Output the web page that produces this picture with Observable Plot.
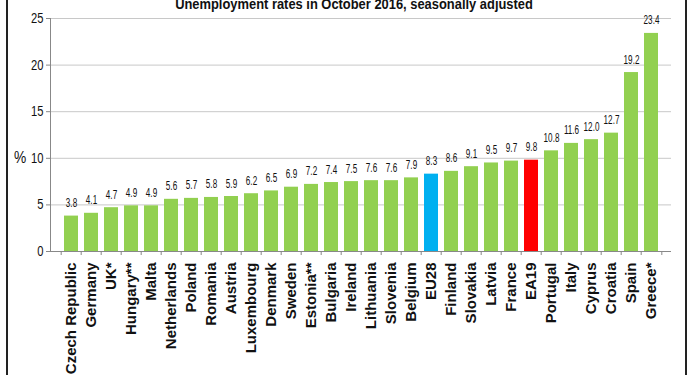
<!DOCTYPE html>
<html>
<head>
<meta charset="utf-8">
<script src="https://cdn.jsdelivr.net/npm/d3@7"></script>
<script src="https://cdn.jsdelivr.net/npm/@observablehq/plot@0.6"></script>
<style>
  html, body { margin: 0; padding: 0; background: #fff; overflow: hidden; }
  #wrap { position: relative; width: 700px; height: 375px; }
  #frame { position: absolute; left: 6px; top: -2px; width: 677px; height: 380px;
           border-left: 2px solid #222; border-right: 2px solid #222; pointer-events: none; }
  #chart { position: absolute; left: 0; top: 0; }
</style>
</head>
<body>
<div id="wrap"><div id="chart"></div><div id="frame"></div></div>
<script>
const title = "Unemployment rates in October 2016, seasonally adjusted";
const countries = ["Czech Republic","Germany","UK*","Hungary**","Malta","Netherlands","Poland","Romania","Austria","Luxembourg","Denmark","Sweden","Estonia**","Bulgaria","Ireland","Lithuania","Slovenia","Belgium","EU28","Finland","Slovakia","Latvia","France","EA19","Portugal","Italy","Cyprus","Croatia","Spain","Greece*"];
const rates = [3.8,4.1,4.7,4.9,4.9,5.6,5.7,5.8,5.9,6.2,6.5,6.9,7.2,7.4,7.5,7.6,7.6,7.9,8.3,8.6,9.1,9.5,9.7,9.8,10.8,11.6,12.0,12.7,19.2,23.4];
const yTicks = [0,5,10,15,20,25];
const highlight = {"EU28": "#00B0F0", "EA19": "#FF0000"};
const barColor = "#92D050";

const data = countries.map((c, i) => ({country: c, rate: rates[i], color: highlight[c] || barColor}));

const W = 700, H = 375, mL = 50, mR = 29, mT = 18, mB = 124;
const pIn = 0.32, pOut = 0.2;
const step = (W - mL - mR) / (countries.length - pIn + 2 * pOut);
const font = "Arial,'Liberation Sans',sans-serif";

const plot = Plot.plot({
  width: W, height: H,
  marginLeft: mL, marginRight: mR, marginTop: mT, marginBottom: mB,
  style: {background: "#fff", fontFamily: font, overflow: "visible"},
  x: {domain: countries, paddingInner: pIn, paddingOuter: pOut, label: null},
  y: {domain: [0, 25], label: null},
  marks: [
    Plot.gridY(yTicks.filter(d => d > 0), {stroke: "#c8c8c8", strokeOpacity: 1}),
    Plot.barY(data, {x: "country", y: "rate", fill: "color"}),
    Plot.text(data, {x: "country", y: "rate", text: d => d.rate.toFixed(1), dy: -13,
      fontSize: 12.5, fill: "#111"}),
    Plot.ruleY([0], {stroke: "#888"}),
    Plot.frame({anchor: "left", stroke: "#888"}),
    Plot.axisY({ticks: yTicks, tickSize: 4, tickPadding: 3, stroke: "#888", fill: "#111",
      fontSize: 14, label: null, tickFormat: d => d}),
    Plot.axisX({ticks: countries, tickSize: 4, text: null, dx: -step / 2, stroke: "#888", label: null}),
    Plot.axisX({ticks: [countries[countries.length - 1]], tickSize: 4, text: null, dx: step / 2, stroke: "#888", label: null}),
    Plot.axisX({ticks: countries, tickSize: 0, tickPadding: 11, tickRotate: -90, fontSize: 15,
      fontWeight: "bold", fill: "#111", label: null})
  ]
});

const svg = d3.select(plot);
svg.append("text").attr("class", "condense").attr("x", 354).attr("y", 9).attr("text-anchor", "middle")
  .attr("font-size", 15).attr("font-weight", "bold").attr("fill", "#111").text(title);
svg.append("text").attr("class", "condense").attr("x", 20).attr("y", 157).attr("dy", "0.35em").attr("text-anchor", "middle")
  .attr("font-size", 16).attr("fill", "#111").text("%");

document.getElementById("chart").appendChild(plot);

// emulate the narrow (condensed) face of the reference for numbers and title
function condense(sel, k) {
  sel.each(function() {
    const len = this.getComputedTextLength();
    if (len > 0) {
      this.setAttribute("textLength", (len * k).toFixed(2));
      this.setAttribute("lengthAdjust", "spacingAndGlyphs");
    }
  });
}
condense(svg.selectAll('g[aria-label="text"] text'), 0.65);
condense(svg.selectAll('g[aria-label="y-axis tick label"] text'), 0.8);
condense(svg.selectAll("text.condense"), 0.86);
</script>
</body>
</html>
